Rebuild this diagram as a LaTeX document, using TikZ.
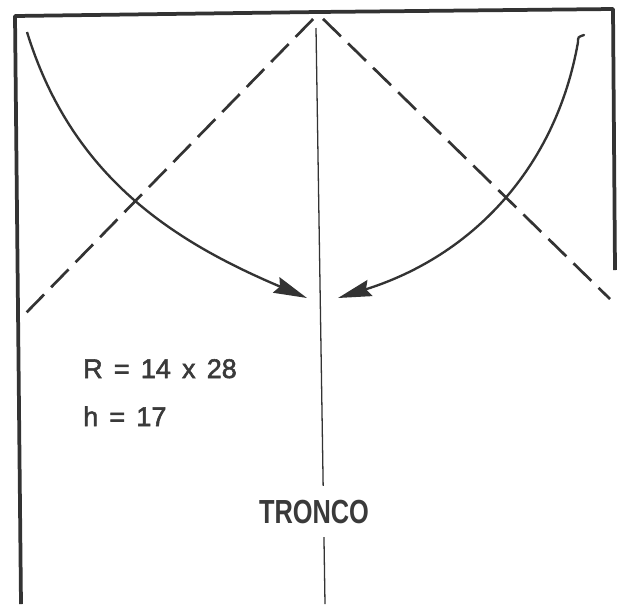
\documentclass[tikz,border=0pt]{standalone}
\usepackage{fontspec}
\setmainfont{Liberation Sans}
\newfontfamily\dimfont[WordSpace=1.5, FakeBold=2]{Liberation Sans}
\newfontfamily\partfont[FakeStretch=0.76]{Liberation Sans}
\usetikzlibrary{arrows.meta}
\definecolor{ink}{HTML}{333333}
\definecolor{printgray}{HTML}{3A3A3A}

\begin{document}
\begin{tikzpicture}[
        x=0.03cm, y=-0.03cm,
        frame/.style={draw=ink, line width=3.2pt, line join=round},
        guide/.style={draw=ink, line width=2.3pt, dash pattern=on 0.75cm off 0.3cm, dash phase=0.84cm},
        axis/.style={draw=ink, line width=1.1pt},
        arc/.style={draw=ink, line width=2pt, -{Stealth[length=1cm, width=0.5cm, inset=0.12cm]}},
        dim/.style={font=\dimfont\fontsize{23}{27}\selectfont, text=printgray, inner sep=0pt, anchor=base west},
        part/.style={font=\partfont\bfseries\fontsize{28.5}{34}\selectfont, text=printgray,
                     fill=white, inner xsep=2pt, inner ysep=0.4cm, anchor=base},
    ]
    \useasboundingbox (0,0) rectangle (617,604);

    % Sheet outline (open at the bottom)
    \coordinate (lbot) at (21,604);
    \coordinate (ltop) at (15,16);
    \coordinate (mtop) at (318,12);
    \coordinate (rtop) at (613,9);
    \coordinate (rbot) at (615,270);
    \draw[frame] (lbot) -- (ltop) -- (mtop) -- (rtop) -- (rbot);

    % Fold lines from the apex
    \coordinate (apex)  at (318,14);
    \coordinate (lfoot) at (25,314);
    \coordinate (rfoot) at (610,299);
    \draw[guide] (apex) -- (lfoot);
    \draw[guide] (apex) -- (rfoot);

    % Centre line
    \coordinate (ctop) at (316,28);
    \coordinate (cbot) at (325,604);
    \draw[axis] (ctop) -- (cbot);

    % Folding arrows
    \coordinate (lstart) at (27,32);
    \coordinate (ltip)   at (307,298);
    \coordinate (rhook)  at (584,35);
    \coordinate (rstart) at (578,42);
    \coordinate (rtip)   at (338,298);
    \draw[arc] (lstart) .. controls (72,178) and (175,242) .. (ltip);
    \draw[arc, line cap=round] (rhook) .. controls (578,37) .. (rstart)
        .. controls (556,168) and (472,256) .. (rtip);

    % Labels
    \node[dim] (radius) at (83,378) {R = 14 x 28};
    \node[dim] (height) at (83,426) {h = 17};
    \node[part] (trunk) at (314,523) {TRONCO};
\end{tikzpicture}
\end{document}
